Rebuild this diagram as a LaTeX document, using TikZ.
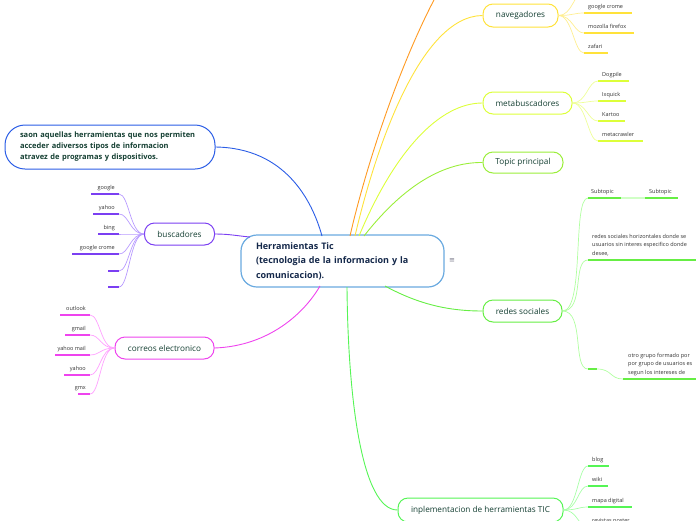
\documentclass[tikz,border=0pt]{standalone}
\usepackage{fontspec}
\setmainfont{Open Sans}
\newfontfamily\symfont{DejaVu Sans}
\definecolor{ctext}{HTML}{143F32}
\definecolor{cnavy}{HTML}{14284A}
\definecolor{cblue}{HTML}{2B5DE6}
\definecolor{clblue}{HTML}{6AAAE0}
\definecolor{cpurple}{HTML}{7B3FF2}
\definecolor{clpurple}{HTML}{B89BFF}
\definecolor{cmag}{HTML}{EE44EE}
\definecolor{clmag}{HTML}{FFA0FF}
\definecolor{cyel}{HTML}{FFE23A}
\definecolor{clyel}{HTML}{FFEE90}
\definecolor{clime}{HTML}{DDFF3A}
\definecolor{cllime}{HTML}{EEFF99}
\definecolor{cgrA}{HTML}{9BEE3A}
\definecolor{cgrB}{HTML}{66EE44}
\definecolor{clgrB}{HTML}{B0FFA0}
\definecolor{cgrC}{HTML}{55F555}
\definecolor{clgrC}{HTML}{A8FFA8}
\definecolor{corange}{HTML}{FF9A22}
\definecolor{leaftext}{HTML}{333333}
\definecolor{csym}{HTML}{777788}
\tikzset{
  topic/.style={draw, line width=1pt, rounded corners=10pt, fill=white, text=ctext,
    font=\fontsize{8.2}{10}\selectfont, inner sep=0pt, align=center},
  leaf/.style={text=leaftext, font=\fontsize{5.5}{8.5}\selectfont, inner sep=0pt},
  ul/.style={line width=1.6pt},
  conn/.style={line width=0.9pt},
  sub/.style={line width=0.7pt},
}
\begin{document}
\begin{tikzpicture}[x=1pt,y=-1pt]
\useasboundingbox (0,0) rectangle (696,520);
% ---------- nodes ----------
\node[topic, draw=clblue, line width=1.2pt, rounded corners=16pt, text=cnavy,
  font=\bfseries\fontsize{9}{14.5}\selectfont, align=left, text width=173pt,
  inner xsep=15pt, minimum height=52pt] (ctr) at (342.5,261)
  {Herramientas Tic\\(tecnologia de la informacion y la\\comunicacion).};
\node[text=csym, font=\symfont\fontsize{7}{8}\selectfont, inner sep=0pt] (sym) at (452,261) {≡};
\node[topic, draw=cblue, rounded corners=20pt, align=left, text width=180pt,
  inner xsep=15pt, minimum height=44pt, font=\bfseries\fontsize{7.5}{11}\selectfont] (desc) at (110,147)
  {saon aquellas herramientas que nos permiten\\acceder adiversos tipos de informacion\\atravez de programas y dispositivos.};
\node[topic, draw=cpurple, minimum width=70pt, minimum height=22pt] (bus) at (179.5,234) {buscadores};
\node[topic, draw=cmag, minimum width=99pt, minimum height=22pt] (cor) at (164.5,348) {correos electronico};
\node[topic, draw=cyel, minimum width=75pt, minimum height=23pt] (nav) at (520.5,15.5) {navegadores};
\node[topic, draw=clime, minimum width=89pt, minimum height=22pt] (meta) at (527.5,103) {metabuscadores};
\node[topic, draw=cgrA, minimum width=80pt, minimum height=21pt] (tp) at (523,162.5) {Topic principal};
\node[topic, draw=cgrB, minimum width=79pt, minimum height=22pt] (red) at (522.5,311) {redes sociales};
\node[topic, draw=cgrC, minimum width=165pt, minimum height=24pt] (imp) at (480.5,510) {inplementacion de herramientas TIC};
% ---------- main connectors ----------
\coordinate (s1) at (350,236);
\coordinate (s2) at (355,236);
\coordinate (s3) at (359,236);
\coordinate (s4) at (364,236);
\coordinate (s5) at (322,236);
\coordinate (s6) at (250,237);
\coordinate (s7) at (320,286);
\coordinate (s8) at (385,286);
\coordinate (s9) at (347,287);
\coordinate (otop) at (442,-15);
\draw[conn, corange] (s1) .. controls (365,170) and (400,60) .. (otop);
\draw[conn, cyel] (s2) .. controls (375,150) and (420,16) .. (nav.west);
\draw[conn, clime] (s3) .. controls (395,150) and (440,103) .. (meta.west);
\draw[conn, cgrA] (s4) .. controls (400,190) and (440,162) .. (tp.west);
\draw[conn, cblue] (desc.east) .. controls (285,148) and (312,200) .. (s5);
\draw[conn, cpurple] (bus.east) .. controls (230,234) and (238,236) .. (s6);
\draw[conn, cmag] (cor.east) .. controls (270,346) and (305,312) .. (s7);
\draw[conn, cgrB] (s8) .. controls (420,305) and (450,311) .. (red.west);
\draw[conn, cgrC] (s9) .. controls (348,400) and (362,510) .. (imp.west);
% ---------- buscadores children ----------
\foreach \n/\xl/\y/\t in {b1/91/194/google, b2/93/214/yahoo, b3/98/234/bing, b4/72/254/google crome, b5/108/271/, b6/108/287/}{
  \coordinate (\n r) at (119,\y);
  \coordinate (\n l) at (\xl,\y);
  \draw[sub, clpurple] (bus.west) .. controls +(-14,0) and +(10,0) .. (\n r);
  \draw[ul, cpurple] (\n l) -- (\n r);
  \node[leaf, anchor=base east] (\n t) at (115,\y-4.5) {\t};
}
% ---------- correos children ----------
\foreach \n/\xl/\y/\t in {c1/60/315/outlook, c2/65/335/gmail, c3/55/355/yahoo mail, c4/64/375/yahoo, c5/78/394/gmx}{
  \coordinate (\n r) at (90,\y);
  \coordinate (\n l) at (\xl,\y);
  \draw[sub, clmag] (cor.west) .. controls +(-14,0) and +(10,0) .. (\n r);
  \draw[ul, cmag] (\n l) -- (\n r);
  \node[leaf, anchor=base east] (\n t) at (86,\y-4.5) {\t};
}
% ---------- navegadores children ----------
\coordinate (n0) at (584,-8);
\draw[sub, clyel] (nav.east) .. controls +(14,0) and +(-10,0) .. (n0);
\foreach \n/\xr/\y/\t in {n1/632/13/google crome, n2/634/33/mozolla firefox, n3/608/53/zafari}{
  \coordinate (\n l) at (584,\y);
  \coordinate (\n r) at (\xr,\y);
  \draw[sub, clyel] (nav.east) .. controls +(14,0) and +(-10,0) .. (\n l);
  \draw[ul, cyel] (\n l) -- (\n r);
  \node[leaf, anchor=base west] (\n t) at (588,\y-4.5) {\t};
}
% ---------- metabuscadores children ----------
\foreach \n/\xr/\y/\t in {m1/629/81/Dogpile, m2/626/101/Ixquick, m3/625/121/Kartoo, m4/643/141/metacrawler}{
  \coordinate (\n l) at (598,\y);
  \coordinate (\n r) at (\xr,\y);
  \draw[sub, cllime] (meta.east) .. controls +(14,0) and +(-10,0) .. (\n l);
  \draw[ul, clime] (\n l) -- (\n r);
  \node[leaf, anchor=base west] (\n t) at (602,\y-4.5) {\t};
}
% ---------- redes sociales children ----------
\coordinate (r1l) at (588,198);
\coordinate (r1r) at (621,198);
\coordinate (r2l) at (645,198);
\coordinate (r2r) at (678,198);
\draw[sub, clgrB] (red.east) .. controls (585,311) and (572,198) .. (r1l);
\draw[ul, cgrB] (r1l) -- (r1r);
\draw[ul, clgrB!60] (r1r) -- (r2l);
\draw[ul, cgrB] (r2l) -- (r2r);
\node[leaf, anchor=base west] (r1t) at (591,193.5) {Subtopic};
\node[leaf, anchor=base west] (r2t) at (649,193.5) {Subtopic};
\coordinate (r3l) at (588,260);
\coordinate (r3r) at (700,260);
\draw[sub, clgrB] (red.east) .. controls (585,311) and (572,260) .. (r3l);
\draw[ul, cgrB] (r3l) -- (r3r);
\node[leaf, anchor=south west, align=left] (r3t) at (592,256)
  {redes sociales horizontales donde se\\usuarios sin interes especifico donde\\desee,};
\coordinate (r4l) at (588,369);
\coordinate (r4r) at (597,369);
\coordinate (r5l) at (623,379);
\coordinate (r5r) at (700,379);
\draw[sub, clgrB] (red.east) .. controls (585,311) and (572,369) .. (r4l);
\draw[ul, cgrB] (r4l) -- (r4r);
\draw[sub, clgrB] (r4r) .. controls (612,369) and (610,379) .. (r5l);
\draw[ul, cgrB] (r5l) -- (r5r);
\node[leaf, anchor=south west, align=left] (r5t) at (628,376)
  {otro grupo formado por\\por grupo de usuarios es\\segun los intereses de};
% ---------- inplementacion children ----------
\foreach \n/\xr/\y/\t in {i1/609/466/blog, i2/608/486/wiki, i3/632/507/mapa digital, i4/652/527/revistas poster}{
  \coordinate (\n l) at (588,\y);
  \coordinate (\n r) at (\xr,\y);
  \draw[sub, clgrC] (imp.east) .. controls +(14,0) and +(-10,0) .. (\n l);
  \draw[ul, cgrC] (\n l) -- (\n r);
  \node[leaf, anchor=base west] (\n t) at (592,\y-4.5) {\t};
}
\end{tikzpicture}
\end{document}
